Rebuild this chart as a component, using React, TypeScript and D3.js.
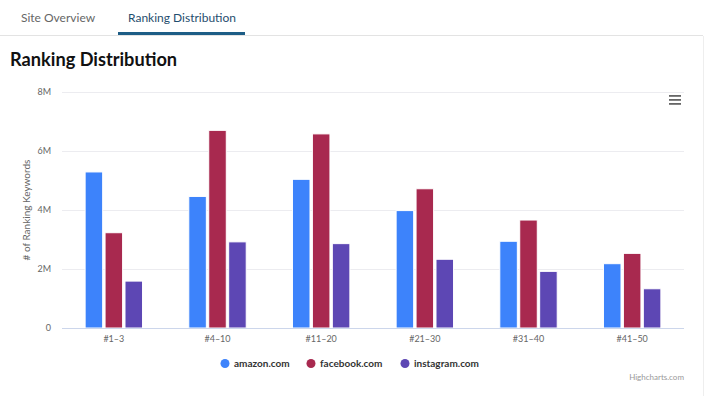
import React from "react";
import * as d3 from "d3";

const CATEGORIES = ["#1–3", "#4–10", "#11–20", "#21–30", "#31–40", "#41–50"];
const SERIES = ["amazon.com", "facebook.com", "instagram.com"];
const AMAZON = [5.29, 4.46, 5.04, 3.98, 2.94, 2.18];
const FACEBOOK = [3.23, 6.7, 6.58, 4.72, 3.66, 2.53];
const INSTAGRAM = [1.59, 2.92, 2.86, 2.33, 1.92, 1.33];
const Y_TICKS = [0, 2, 4, 6, 8];
const COLORS = ["#3d83fb", "#a8294f", "#5d47b4"];

const FONT = "Lato, 'Open Sans', sans-serif";

const App = () => {
  const width = 704;
  const height = 396;
  const left = 62;
  const right = 684;
  const top = 92;
  const bottom = 328;

  const values = [AMAZON, FACEBOOK, INSTAGRAM];

  const x = d3.scaleBand().domain(CATEGORIES).range([left, right]).paddingInner(0.4).paddingOuter(0.2);
  const xs = d3.scaleBand().domain(SERIES).range([0, x.bandwidth()]).padding(0.12);
  const y = d3.scaleLinear().domain([0, 8]).range([bottom, top]);

  const legendX = [225, 311, 405];

  return (
    <svg
      width={width}
      height={height}
      style={{ position: "absolute", left: 0, top: 0, fontFamily: FONT }}
    >
      <rect width={width} height={height} fill="#fff" />
      {/* tabs */}
      <text x={21} y={21.5} fontSize={12} fill="#666">Site Overview</text>
      <text x={128} y={21.5} fontSize={12} fill="#1f4e6e">Ranking Distribution</text>
      <line x1={0} x2={703} y1={35.5} y2={35.5} stroke="#e3e3e3" />
      <rect x={118} y={32} width={127} height={3} fill="#1d5d86" />
      <line x1={703.5} x2={703.5} y1={36} y2={height} stroke="#eee" />
      <text x={10} y={66} fontSize={18.2} fontWeight={700} fill="#111">Ranking Distribution</text>

      {/* grid */}
      {Y_TICKS.map((t) => (
        <g key={t}>
          {t > 0 && (
            <line x1={left} x2={right} y1={y(t) + 0.5} y2={y(t) + 0.5} stroke="#ececf0" />
          )}
          <text x={51} y={y(t) + 3} fontSize={9} fill="#666" textAnchor="end">
            {t === 0 ? "0" : `${t}M`}
          </text>
        </g>
      ))}
      <text
        transform={`translate(30, ${(top + bottom) / 2}) rotate(-90)`}
        fontSize={10}
        fill="#666"
        textAnchor="middle"
      >
        # of Ranking Keywords
      </text>

      {/* bars */}
      {CATEGORIES.map((c, i) => (
        <g key={c} transform={`translate(${x(c)}, 0)`}>
          {SERIES.map((s, j) => (
            <rect
              key={s}
              x={xs(s)}
              y={y(values[j][i])}
              width={xs.bandwidth()}
              height={bottom - y(values[j][i])}
              fill={COLORS[j]}
              stroke="#fff"
              strokeWidth={1}
            />
          ))}
        </g>
      ))}
      <line x1={left} x2={right} y1={bottom + 0.5} y2={bottom + 0.5} stroke="#ccd6eb" />

      {/* x labels */}
      {CATEGORIES.map((c) => (
        <text key={c} x={(x(c) || 0) + x.bandwidth() / 2} y={342} fontSize={9} fill="#666" textAnchor="middle">
          {c}
        </text>
      ))}

      {/* legend */}
      {SERIES.map((s, j) => (
        <g key={s}>
          <circle cx={legendX[j]} cy={363.5} r={4.5} fill={COLORS[j]} />
          <text x={legendX[j] + 9} y={367} fontSize={10} fontWeight={700} fill="#333">
            {s}
          </text>
        </g>
      ))}

      {/* menu icon */}
      {[0, 4, 8].map((d) => (
        <rect key={d} x={669} y={95 + d} width={12} height={1.8} fill="#666" />
      ))}

      <text x={684} y={380} fontSize={8} fill="#999" textAnchor="end">Highcharts.com</text>
    </svg>
  );
};

export default App;
